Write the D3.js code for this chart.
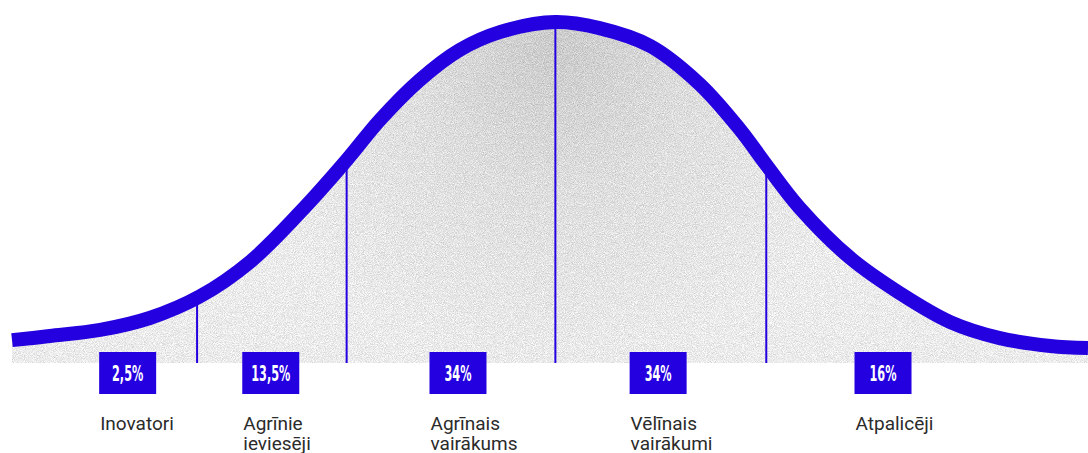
<!DOCTYPE html>
<html>
<head>
<meta charset="utf-8">
<script src="https://cdn.jsdelivr.net/npm/d3@7"></script>
<style>
body { margin: 0; background: #fff; }
.label { font-family: Roboto, "Noto Sans", sans-serif; font-size: 19px; fill: #2b2b2b; }
.pct { font-family: "Liberation Sans Narrow", "DejaVu Sans Condensed", sans-serif; font-weight: bold; font-size: 22px; fill: #fff; }
</style>
</head>
<body>
<div class="chart"></div>
<script>
// bell curve (x: time, y: share of adopters, peak = 100)
var curveX = [0, 3.5, 8.2, 12.8, 17.5, 22.1, 26.8, 31.1, 34.2, 37.9, 41.6, 45.4, 50.5, 54.6, 59.3, 63.9, 67.7, 70.1, 73.2, 77.9, 82.5, 87.2, 91.8, 96.5, 100];
var curveY = [6.7, 7.9, 9.7, 13.2, 19.6, 29.6, 44.3, 59.5, 71.3, 83.0, 91.8, 97.1, 100, 98.2, 93.0, 81.8, 68.3, 58.1, 45.5, 30.8, 20.5, 12.0, 7.3, 5.0, 4.4];

var dividerX = [17.2, 31.1, 50.5, 70.1];
var dividerTop = [19.1, 59.5, 100, 58.1];

var categories = [["Inovatori"], ["Agrīnie", "ieviesēji"], ["Agrīnais", "vairākums"], ["Vēlīnais", "vairākumi"], ["Atpalicēji"]];
var shares = [2.5, 13.5, 34, 34, 16];
var labelX = [8.1, 21.4, 38.8, 57.4, 78.3];

var blue = "#2400e0";
var lv = d3.formatLocale({decimal: ",", thousands: "\u00a0", grouping: [3], currency: ["", " €"]});
var fmt = lv.format("~g");

function drawChart() {
	var sel = d3.select(".chart").html("");
	var width = 1088;
	var height = 453;

	var svg = sel.append("svg")
		.attr("width", width)
		.attr("height", height)
		.style("display", "block");

	var x = d3.scaleLinear().domain([0, 100]).range([12, 1088]);
	var y = d3.scaleLinear().domain([0, 100]).range([363, 22]);

	var pts = curveX.map(function(d, i){ return {x: d, y: curveY[i]}; });

	var defs = svg.append("defs");

	var grad = defs.append("radialGradient")
		.attr("id", "fillGrad")
		.attr("gradientUnits", "userSpaceOnUse")
		.attr("cx", x(50.5))
		.attr("cy", y(94))
		.attr("r", 330);
	grad.append("stop").attr("offset", 0).attr("stop-color", "#cbcbcb");
	grad.append("stop").attr("offset", 0.45).attr("stop-color", "#dedede");
	grad.append("stop").attr("offset", 1).attr("stop-color", "#ebebeb");

	var filter = defs.append("filter")
		.attr("id", "grain")
		.attr("x", 0).attr("y", 0).attr("width", 1).attr("height", 1)
		.attr("color-interpolation-filters", "sRGB");
	filter.append("feTurbulence")
		.attr("type", "fractalNoise")
		.attr("baseFrequency", 1.1)
		.attr("numOctaves", 2)
		.attr("seed", 7)
		.attr("result", "noise");
	filter.append("feColorMatrix")
		.attr("in", "noise")
		.attr("type", "matrix")
		.attr("values", "1 0 0 0 0  1 0 0 0 0  1 0 0 0 0  0 0 0 0 1")
		.attr("result", "grey");
	filter.append("feComposite")
		.attr("in", "SourceGraphic")
		.attr("in2", "grey")
		.attr("operator", "arithmetic")
		.attr("k1", 0).attr("k2", 1).attr("k3", 0.34).attr("k4", -0.17)
		.attr("result", "mix");
	filter.append("feComposite")
		.attr("in", "mix")
		.attr("in2", "SourceGraphic")
		.attr("operator", "in");

	var area = d3.area()
		.x(d => x(d.x))
		.y0(y(0))
		.y1(d => y(d.y))
		.curve(d3.curveCatmullRom.alpha(0.5));

	var line = d3.line()
		.x(d => x(d.x))
		.y(d => y(d.y))
		.curve(d3.curveCatmullRom.alpha(0.5));

	svg.append("path")
		.datum(pts)
		.attr("d", area)
		.style("fill", "url(#fillGrad)")
		.attr("filter", "url(#grain)");

	svg.selectAll(".divider")
		.data(dividerX)
		.enter().append("line")
		.attr("class", "divider")
		.attr("x1", d => x(d))
		.attr("x2", d => x(d))
		.attr("y1", y(0))
		.attr("y2", (d, i) => y(dividerTop[i]))
		.style("stroke", blue)
		.style("stroke-width", 2);

	svg.append("path")
		.datum(pts)
		.attr("d", line)
		.style("fill", "none")
		.style("stroke", blue)
		.style("stroke-width", 14);

	var g = svg.selectAll(".cat")
		.data(categories)
		.enter().append("g")
		.attr("class", "cat")
		.attr("transform", (d, i) => "translate(" + x(labelX[i]) + ",0)");

	g.append("rect")
		.attr("y", 352)
		.attr("width", 57)
		.attr("height", 42)
		.style("fill", blue);

	g.append("text")
		.attr("class", "pct")
		.attr("text-anchor", "middle")
		.attr("transform", "translate(28.5,381) scale(0.57,1)")
		.text((d, i) => fmt(shares[i]) + "%");

	g.append("text")
		.attr("class", "label")
		.selectAll("tspan")
		.data(d => d)
		.enter().append("tspan")
		.attr("x", 1)
		.attr("y", (d, i) => 430 + i * 20)
		.text(d => d);
}

drawChart();
</script>
</body>
</html>
